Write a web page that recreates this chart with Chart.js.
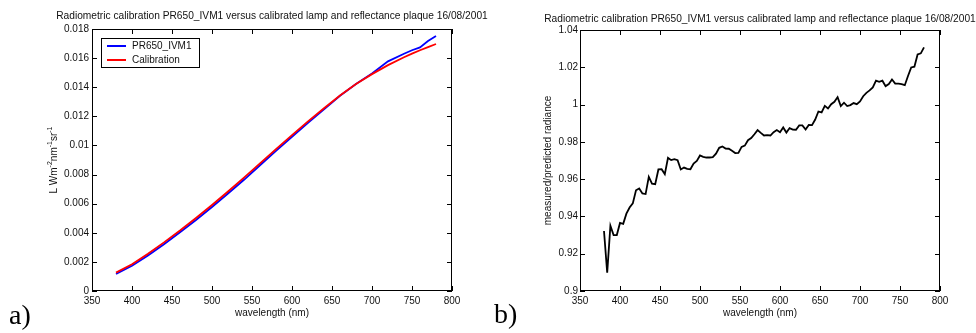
<!DOCTYPE html>
<html><head><meta charset="utf-8">
<script src="https://cdn.jsdelivr.net/npm/chart.js@4/dist/chart.umd.min.js"></script>
<style>
html,body{margin:0;padding:0;background:#fff;width:976px;height:333px;overflow:hidden;}
#wrap{position:relative;width:976px;height:333px;}
canvas{position:absolute;top:0;}
#c1{left:0;} #c2{left:476px;}
.lab{position:absolute;font-family:"Liberation Serif","Times New Roman",serif;font-size:28px;line-height:28px;color:#000;}
</style></head><body>
<div id="wrap">
<canvas id="c1" width="500" height="333"></canvas>
<canvas id="c2" width="500" height="333"></canvas>
<div class="lab" style="left:9px;top:301px">a)</div>
<div class="lab" style="left:494px;top:300px">b)</div>
</div>
<script>
// ---------- data ----------
const titleText = 'Radiometric calibration PR650_IVM1 versus calibrated lamp and reflectance plaque 16/08/2001';
const seriesNamesA = ['PR650_IVM1', 'Calibration'];
const wavelengthA = [380,400,420,440,460,480,500,520,540,560,580,600,620,640,660,680,700,720,740,750,760,770,780];
const measuredA = [0.00117,0.00173,0.00244,0.00321,0.00404,0.00488,0.00577,0.00670,0.00764,0.00864,0.00963,0.01060,0.01155,0.01248,0.01341,0.01422,0.01495,0.01578,0.01630,0.01654,0.01674,0.01718,0.01752];
const calibrationA = [0.00126,0.00184,0.00256,0.00334,0.00416,0.00502,0.00591,0.00684,0.00779,0.00877,0.00975,0.01071,0.01165,0.01256,0.01343,0.01422,0.01490,0.01552,0.01606,0.01631,0.01654,0.01676,0.01697];
const wavelengthB = [380,384,388,392,396,400,404,408,412,416,420,424,428,432,436,440,444,448,452,456,460,464,468,472,476,480,484,488,492,496,500,504,508,512,516,520,524,528,532,536,540,544,548,552,556,560,564,568,572,576,580,584,588,592,596,600,604,608,612,616,620,624,628,632,636,640,644,648,652,656,660,664,668,672,676,680,684,688,692,696,700,704,708,712,716,720,724,728,732,736,740,744,748,752,756,760,764,768,772,776,780];
const ratioB = [0.9322,0.9098,0.9350,0.9300,0.9300,0.9365,0.9360,0.9415,0.9448,0.9470,0.9540,0.9550,0.9523,0.9520,0.9612,0.9576,0.9573,0.9652,0.9653,0.9627,0.9714,0.9702,0.9707,0.9702,0.9652,0.9662,0.9655,0.9653,0.9684,0.9698,0.9727,0.9720,0.9716,0.9716,0.9718,0.9737,0.9768,0.9775,0.9764,0.9763,0.9752,0.9740,0.9741,0.9773,0.9780,0.9809,0.9820,0.9841,0.9863,0.9848,0.9834,0.9836,0.9834,0.9852,0.9863,0.9852,0.9877,0.9850,0.9874,0.9866,0.9865,0.9888,0.9888,0.9866,0.9891,0.9890,0.9920,0.9963,0.9958,0.9993,0.9979,1.0002,1.0015,1.0040,0.9992,1.0010,0.9992,0.9997,1.0008,1.0002,1.0017,1.0045,1.0063,1.0076,1.0092,1.0128,1.0122,1.0128,1.0099,1.0110,1.0135,1.0113,1.0112,1.0110,1.0104,1.0153,1.0199,1.0203,1.0269,1.0275,1.0307];
const xTicks = [350,400,450,500,550,600,650,700,750,800];
const yTicksA = [0,0.002,0.004,0.006,0.008,0.01,0.012,0.014,0.016,0.018];
const yTicksB = [0.9,0.92,0.94,0.96,0.98,1,1.02,1.04];
const xTitle = 'wavelength (nm)';
const yTitleB = 'measured/predicted radiance';
const yTitleAParts = [{t:'L Wm'},{t:'-2',sup:true},{t:'nm'},{t:'-1',sup:true},{t:'sr'},{t:'-1',sup:true}];

// ---------- rendering ----------
const FONT = '"Liberation Sans", Arial, Helvetica, sans-serif';
const TXT = '#111';
Chart.defaults.font.family = FONT;
Chart.defaults.font.size = 10;
Chart.defaults.color = TXT;

const fmt = v => String(+(+v).toFixed(4));
const toXY = (xs, ys) => xs.map((x, i) => ({x, y: ys[i]}));

const framePlugin = {
  id: 'frame',
  afterDraw(chart, args, o) {
    const {ctx, chartArea: a, scales} = chart;
    ctx.save();
    ctx.strokeStyle = '#000';
    ctx.lineWidth = 1;
    ctx.strokeRect(a.left + 0.5, a.top + 0.5, a.right - a.left - 1, a.bottom - a.top - 1);
    const L = 5;
    ctx.beginPath();
    for (const v of o.xTicks) {
      const p = Math.round(scales.x.getPixelForValue(v)) + 0.5;
      ctx.moveTo(p, a.bottom); ctx.lineTo(p, a.bottom - L);
      ctx.moveTo(p, a.top); ctx.lineTo(p, a.top + L);
    }
    for (const v of o.yTicks) {
      const p = Math.round(scales.y.getPixelForValue(v)) + 0.5;
      ctx.moveTo(a.left, p); ctx.lineTo(a.left + L, p);
      ctx.moveTo(a.right, p); ctx.lineTo(a.right - L, p);
    }
    ctx.stroke();
    // title
    ctx.fillStyle = TXT;
    ctx.font = '10.2px ' + FONT;
    ctx.textAlign = 'center';
    ctx.textBaseline = 'middle';
    ctx.fillText(o.title, (a.left + a.right) / 2, o.titleY);
    // y label with superscripts
    if (o.yParts) {
      ctx.save();
      ctx.translate(o.yLabelX, (a.top + a.bottom) / 2);
      ctx.rotate(-Math.PI / 2);
      let total = 0;
      for (const p of o.yParts) { ctx.font = (p.sup ? '7px ' : '10px ') + FONT; total += ctx.measureText(p.t).width; }
      let x = -total / 2;
      ctx.textAlign = 'left';
      ctx.textBaseline = 'alphabetic';
      for (const p of o.yParts) {
        ctx.font = (p.sup ? '7px ' : '10px ') + FONT;
        ctx.fillText(p.t, x, p.sup ? -1.5 : 3.5);
        x += ctx.measureText(p.t).width;
      }
      ctx.restore();
    }
    // legend
    if (o.legend) {
      const g = o.legend;
      ctx.fillStyle = '#fff';
      ctx.fillRect(g.x, g.y, g.w, g.h);
      ctx.strokeStyle = '#000';
      ctx.lineWidth = 1;
      ctx.strokeRect(g.x + 0.5, g.y + 0.5, g.w - 1, g.h - 1);
      chart.data.datasets.forEach((ds, i) => {
        const y = g.y + 8 + i * 14;
        ctx.strokeStyle = ds.borderColor;
        ctx.lineWidth = 2;
        ctx.beginPath(); ctx.moveTo(g.x + 6, y); ctx.lineTo(g.x + 25, y); ctx.stroke();
        ctx.fillStyle = TXT;
        ctx.font = '10px ' + FONT;
        ctx.textAlign = 'left';
        ctx.textBaseline = 'middle';
        ctx.fillText(ds.label, g.x + 31, y);
      });
    }
    ctx.restore();
  }
};

function axisX(tickPad, titlePadBottom) {
  return {
    type: 'linear', min: 350, max: 800,
    afterBuildTicks: s => { s.ticks = xTicks.map(v => ({value: v})); },
    afterFit: s => { s.height = 42; },
    grid: {display: false, drawTicks: false},
    border: {display: false},
    ticks: {padding: tickPad, maxRotation: 0, autoSkip: false, callback: v => fmt(v), color: TXT},
    title: {display: true, text: xTitle, padding: {top: 0, bottom: titlePadBottom}, color: TXT}
  };
}

new Chart(document.getElementById('c1'), {
  type: 'line',
  data: {
    datasets: [
      {label: seriesNamesA[0], data: toXY(wavelengthA, measuredA), borderColor: '#0000ff', borderWidth: 1.8, pointRadius: 0, tension: 0, fill: false, order: 2},
      {label: seriesNamesA[1], data: toXY(wavelengthA, calibrationA), borderColor: '#ff0000', borderWidth: 1.8, pointRadius: 0, tension: 0, fill: false, order: 1}
    ]
  },
  options: {
    responsive: false, animation: false, devicePixelRatio: 1, events: [],
    layout: {padding: {left: 0, right: 48, top: 29, bottom: 0}},
    scales: {
      x: axisX(4, 14),
      y: {
        type: 'linear', min: 0, max: 0.018,
        afterBuildTicks: s => { s.ticks = yTicksA.map(v => ({value: v})); },
        afterFit: s => { s.width = 92; },
        grid: {display: false, drawTicks: false},
        border: {display: false},
        ticks: {padding: 3, autoSkip: false, callback: v => fmt(v), color: TXT}
      }
    },
    plugins: {
      legend: {display: false}, tooltip: {enabled: false}, title: {display: false},
      frame: {xTicks, yTicks: yTicksA, title: titleText, titleY: 16, yParts: yTitleAParts, yLabelX: 53,
              legend: {x: 101, y: 38, w: 99, h: 30}}
    }
  },
  plugins: [framePlugin]
});

new Chart(document.getElementById('c2'), {
  type: 'line',
  data: {
    datasets: [
      {label: 'ratio', data: toXY(wavelengthB, ratioB), borderColor: '#000000', borderWidth: 1.8, pointRadius: 0, tension: 0, fill: false}
    ]
  },
  options: {
    responsive: false, animation: false, devicePixelRatio: 1, events: [],
    layout: {padding: {left: 0, right: 36, top: 30, bottom: 0}},
    scales: {
      x: axisX(4, 14),
      y: {
        type: 'linear', min: 0.9, max: 1.04,
        afterBuildTicks: s => { s.ticks = yTicksB.map(v => ({value: v})); },
        afterFit: s => { s.width = 104; },
        grid: {display: false, drawTicks: false},
        border: {display: false},
        ticks: {padding: 2, autoSkip: false, callback: v => fmt(v), color: TXT},
        title: {display: true, text: yTitleB, padding: {top: 66, bottom: 0}, color: TXT}
      }
    },
    plugins: {
      legend: {display: false}, tooltip: {enabled: false}, title: {display: false},
      frame: {xTicks, yTicks: yTicksB, title: titleText, titleY: 19}
    }
  },
  plugins: [framePlugin]
});
</script>
</body></html>
